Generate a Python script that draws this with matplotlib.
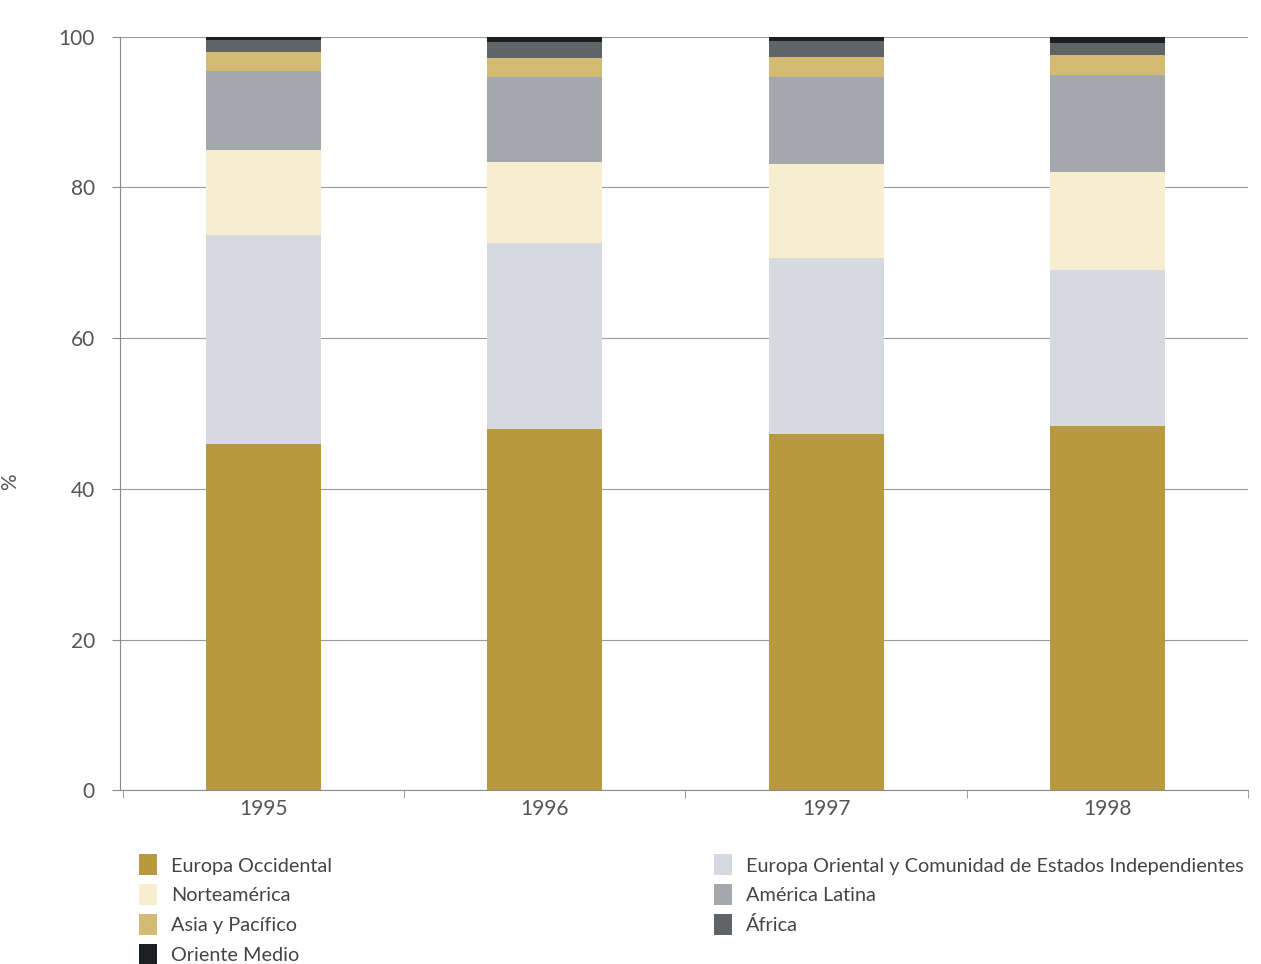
import matplotlib.pyplot as plt
import numpy as np

years = ['1995', '1996', '1997', '1998']

# stacked shares (%), bottom to top
europa_occidental = [46.0, 47.9, 47.3, 48.3]
europa_oriental = [27.7, 24.7, 23.4, 20.7]
norteamerica = [11.2, 10.8, 12.4, 13.1]
america_latina = [10.6, 11.3, 11.5, 12.8]
asia_pacifico = [2.5, 2.5, 2.7, 2.7]
africa = [1.6, 2.1, 2.1, 1.6]
oriente_medio = [0.4, 0.7, 0.6, 0.8]

series = [
    ('Europa Occidental', europa_occidental, '#b8993f'),
    ('Europa Oriental y Comunidad de Estados Independientes', europa_oriental, '#d6d9df'),
    ('Norteamérica', norteamerica, '#f7eed2'),
    ('América Latina', america_latina, '#a4a7ab'),
    ('Asia y Pacífico', asia_pacifico, '#d4bb74'),
    ('África', africa, '#5f6466'),
    ('Oriente Medio', oriente_medio, '#1c1f21'),
]

plt.rcParams['font.family'] = ['Lato', 'DejaVu Sans']

fig = plt.figure(figsize=(12.61, 9.64), dpi=100)
ax = fig.add_axes([0.095, 0.18, 0.895, 0.782])

x = np.arange(len(years))
width = 0.41
bottom = np.zeros(len(years))
handles = {}
for name, vals, color in series:
    vals = np.array(vals)
    h = ax.bar(x, vals, width, bottom=bottom, color=color, edgecolor='none', zorder=3)
    handles[name] = h
    bottom += vals

ax.set_xlim(-0.51, 3.5)
ax.set_ylim(0, 100)
ax.set_yticks(np.arange(0, 101, 20))
ax.grid(axis='y', color='#9a9a9a', linewidth=0.8, zorder=0)
ax.set_xticks(x)
ax.set_xticklabels(years)
ax.set_xticks(np.arange(-0.5, 4, 1), minor=True)
ax.tick_params(axis='x', which='major', length=0, pad=6, labelsize=15, labelcolor='#555555')
ax.tick_params(axis='x', which='minor', length=6, color='#8a8a8a')
ax.tick_params(axis='y', length=6, color='#8a8a8a', pad=12, labelsize=15, labelcolor='#555555')

for s in ['top', 'right']:
    ax.spines[s].set_visible(False)
for s in ['left', 'bottom']:
    ax.spines[s].set_color('#8a8a8a')
    ax.spines[s].set_linewidth(0.8)

ax.set_ylabel('%', fontsize=15, color='#555555')
ax.yaxis.set_label_coords(-0.088, 0.41)

left_names = ['Europa Occidental', 'Norteamérica', 'Asia y Pacífico', 'Oriente Medio']
right_names = ['Europa Oriental y Comunidad de Estados Independientes', 'América Latina', 'África']

leg_kw = dict(frameon=False, fontsize=14.3, handlelength=0.9, handleheight=1.25,
              handletextpad=0.7, labelspacing=0.45, labelcolor='#444444',
              loc='upper left', borderaxespad=0)
l1 = fig.legend([handles[n] for n in left_names], left_names,
                bbox_to_anchor=(0.104, 0.122), **leg_kw)
l2 = fig.legend([handles[n] for n in right_names], right_names,
                bbox_to_anchor=(0.560, 0.122), **leg_kw)

fig.savefig('out.png', dpi=100)
